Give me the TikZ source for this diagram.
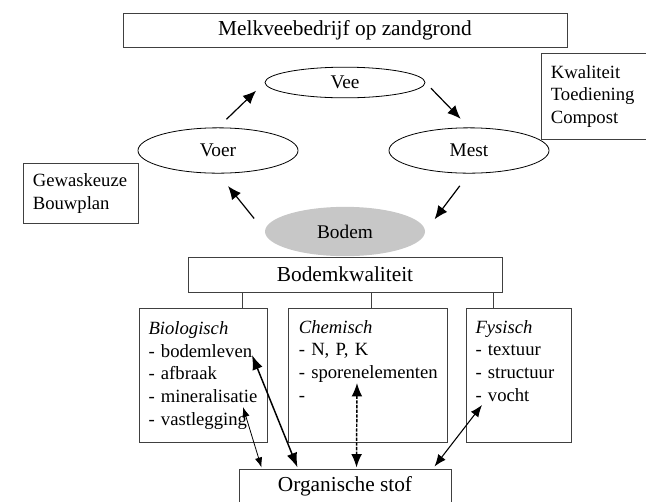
\documentclass[tikz,border=0pt]{standalone}
\usepackage{fontspec}
\setmainfont{Liberation Serif}
\usetikzlibrary{shapes.geometric,arrows.meta,calc}
\newcommand{\itemfont}{\fontsize{14}{17}\selectfont}
\newcommand{\headfont}{\fontsize{16}{19}\selectfont}

\begin{document}
\begin{tikzpicture}[
    x=0.75pt, y=-0.75pt,
    titlebox/.style={draw=black!75, line width=0.75pt, inner sep=0pt, font=\headfont},
    sidebox/.style={draw=black!75, line width=0.75pt, anchor=north west, align=left, inner xsep=7pt, inner ysep=0pt, font=\itemfont},
    catbox/.style={draw=black!75, line width=0.75pt, anchor=north west, align=left, inner xsep=6.75pt, inner ysep=0pt, minimum height=100.5pt, font=\itemfont},
    loopnode/.style={draw, ellipse, line width=0.6pt, inner sep=0pt, minimum width=120pt, font=\fontsize{14.5}{17}\selectfont},
    flow/.style={-{Latex[length=10pt,width=8.5pt]}, line width=0.9pt},
    twoway/.style={{Latex[length=9pt,width=7pt]}-{Latex[length=9pt,width=7pt]}, line width=0.8pt}
  ]
  \useasboundingbox (0,0) rectangle (646,501);
  \clip (0,0) rectangle (646,501);

  % cycle
  \node[titlebox, minimum width=333pt, minimum height=25.5pt] (farm) at (345,30) {Melkveebedrijf op zandgrond};
  \node[loopnode, minimum height=23pt] (vee)  at (345,82.5)  {Vee};
  \node[loopnode, minimum height=34pt] (voer) at (218,150.5) {Voer};
  \node[loopnode, minimum height=34pt] (mest) at (469,150.5) {Mest};
  \node[loopnode, minimum height=37pt, draw=none, fill=black!22] (bodem) at (345,231.5) {Bodem};

  \node[sidebox, text width=72pt, minimum height=45pt]   (crop)   at (23,163) {Gewaskeuze\\Bouwplan};
  \node[sidebox, text width=65pt, minimum height=64.5pt] (manure) at (541,53) {Kwaliteit\\Toediening\\Compost};

  \draw[flow, shorten <=8.8pt, shorten >=8.8pt] (voer.north) -- (vee.west);
  \draw[flow, shorten <=6pt, shorten >=9pt] (vee.east) -- (mest.north);
  \draw[flow, shorten <=11.5pt, shorten >=11.5pt] (mest.south) -- (bodem.east);
  \draw[flow, shorten <=12.5pt, shorten >=12pt] (bodem.west) -- (voer.south);

  % soil quality
  \node[titlebox, minimum width=235.5pt, minimum height=26.25pt] (kwal) at (345,274.5) {Bodemkwaliteit};
  \node[catbox, text width=82.5pt] (bio) at (139,308)
    {\textit{Biologisch}\\- bodemleven\\- afbraak\\- mineralisatie\\- vastlegging};
  \node[catbox, text width=103.75pt, inner xsep=7.75pt] (chem) at (288,308)
    {\textit{Chemisch}\\- N, P, K\\\mbox{- sporenelementen}\\-\\\strut};
  \node[catbox, text width=65.25pt] (fys) at (466,308)
    {\textit{Fysisch}\\- textuur\\- structuur\\- vocht\\\strut};
  \node[titlebox, minimum width=159pt, minimum height=25.5pt] (org) at (345,486) {Organische stof};

  \coordinate (s1) at (242,0);
  \coordinate (s2) at (371,0);
  \coordinate (s3) at (493,0);
  \draw[black!75, line width=0.75pt] (kwal.south -| s1) -- (bio.north -| s1);
  \draw[black!75, line width=0.75pt] (kwal.south -| s2) -- (chem.north -| s2);
  \draw[black!75, line width=0.75pt] (kwal.south -| s3) -- (fys.north -| s3);

  \coordinate (vastl) at (243,407);
  \coordinate (leven) at (252,355);
  \coordinate (spoor) at (357,383);
  \coordinate (vocht) at (482,405);
  \draw[{Latex[length=7.5pt,width=5.5pt]}-{Latex[length=7.5pt,width=5.5pt]}, line width=0.6pt] (vastl) -- ($(org.north west)+(23,-1)$);
  \draw[{Latex[length=11pt,width=8pt]}-{Latex[length=11pt,width=8pt]}, line width=1.1pt] (leven) -- ($(org.north west)+(59,-1)$);
  \draw[{Latex[length=10pt,width=8pt]}-{Latex[length=10pt,width=8pt]}, line width=1.1pt, dash pattern=on 2.5pt off 1pt] (spoor) -- ($(org.north west)+(118,-1)$);
  \draw[twoway] (vocht) -- ($(org.north west)+(196,-2)$);
\end{tikzpicture}
\end{document}
